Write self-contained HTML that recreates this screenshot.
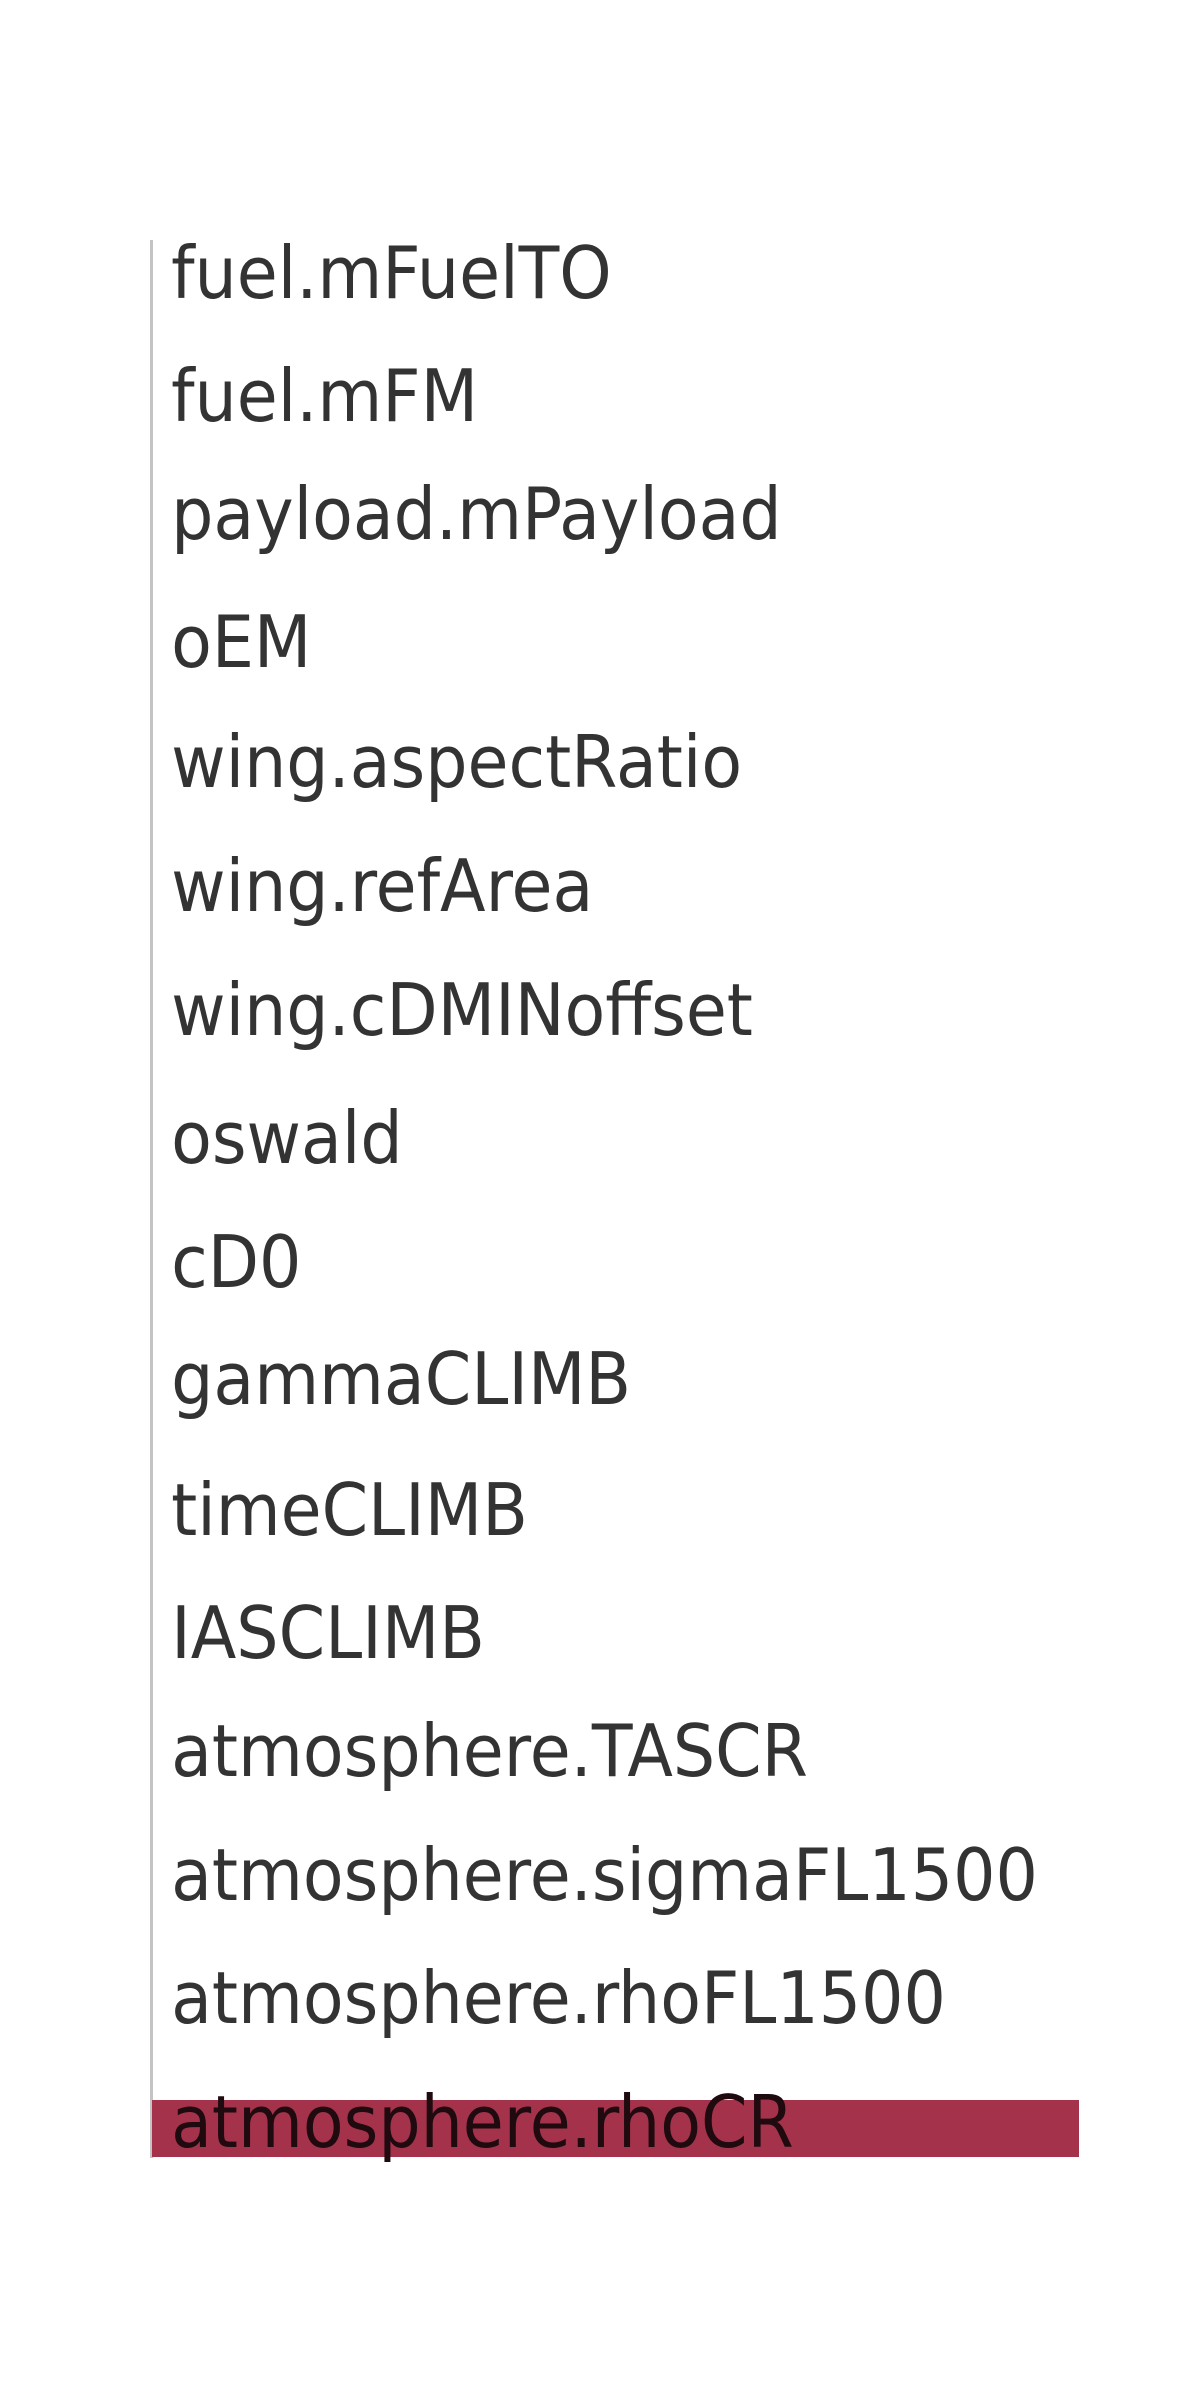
<!DOCTYPE html>
<html><head><meta charset="utf-8"><style>
html,body{margin:0;padding:0;background:#fff;}
svg{display:block;}
text{font-family:"DejaVu Sans","Liberation Sans",sans-serif;font-size:72px;fill:#333;}
</style></head><body>
<svg width="1200" height="2400" viewBox="0 0 1200 2400" xmlns="http://www.w3.org/2000/svg">
<rect x="0" y="0" width="1200" height="2400" fill="#fff"/>
<rect x="150" y="240" width="3" height="1918" fill="#c4c4c4"/>
<rect x="152" y="2100" width="927" height="57" fill="#a3324a"/>
<g transform="scale(0.925,1)">
<text x="185" y="298">fuel.mFuelTO</text>
<text x="185" y="421">fuel.mFM</text>
<text x="185" y="539">payload.mPayload</text>
<text x="185" y="667">oEM</text>
<text x="185" y="787">wing.aspectRatio</text>
<text x="185" y="911">wing.refArea</text>
<text x="185" y="1035">wing.cDMINoffset</text>
<text x="185" y="1163">oswald</text>
<text x="185" y="1287">cD0</text>
<text x="185" y="1404">gammaCLIMB</text>
<text x="185" y="1535">timeCLIMB</text>
<text x="185" y="1658">IASCLIMB</text>
<text x="185" y="1776">atmosphere.TASCR</text>
<text x="185" y="1900">atmosphere.sigmaFL1500</text>
<text x="185" y="2023">atmosphere.rhoFL1500</text>
<text x="185" y="2147" style="fill:#1e0a0f">atmosphere.rhoCR</text>
</g>
</svg>
</body></html>
